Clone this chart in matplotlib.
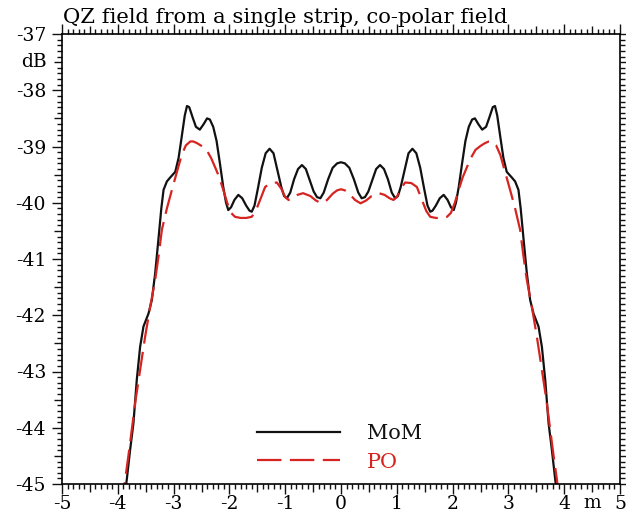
import matplotlib
matplotlib.use('Agg')
import matplotlib.pyplot as plt
from matplotlib.ticker import MultipleLocator, FuncFormatter
from matplotlib.transforms import blended_transform_factory

plt.rcParams['font.family'] = 'DejaVu Serif'
plt.rcParams['axes.unicode_minus'] = False

# MoM (black), metres vs dB
x_mom = [-3.92, -3.84, -3.78, -3.72, -3.66, -3.60, -3.54, -3.45, -3.39, -3.33,
         -3.27, -3.22, -3.18, -3.12, -3.06, -2.97, -2.91, -2.855, -2.80, -2.76,
         -2.72, -2.66, -2.60, -2.53, -2.46, -2.40, -2.35, -2.29, -2.23, -2.17,
         -2.11, -2.06, -2.02, -1.97, -1.91, -1.84, -1.77, -1.70, -1.64, -1.60,
         -1.55, -1.49, -1.42, -1.35, -1.28, -1.21, -1.14, -1.07, -1.02, -0.97,
         -0.91, -0.84, -0.77, -0.70, -0.63, -0.56, -0.49, -0.43, -0.37, -0.31,
         -0.23, -0.15, -0.07, 0.0,
         0.07, 0.15, 0.23, 0.31, 0.37, 0.43, 0.49, 0.56, 0.63, 0.70,
         0.77, 0.84, 0.91, 0.97, 1.02, 1.07, 1.14, 1.21, 1.28, 1.35,
         1.42, 1.49, 1.55, 1.60, 1.64, 1.70, 1.77, 1.84, 1.91, 1.97,
         2.02, 2.06, 2.11, 2.17, 2.23, 2.29, 2.35, 2.40, 2.46, 2.53,
         2.60, 2.66, 2.72, 2.76, 2.80, 2.855, 2.91, 2.97, 3.06, 3.12,
         3.18, 3.22, 3.27, 3.33, 3.39, 3.45, 3.54, 3.60, 3.66, 3.72,
         3.78, 3.84, 3.92]
y_mom = [-45.5, -44.93, -44.4, -43.92, -43.15, -42.56, -42.2, -41.97, -41.73, -41.25,
         -40.63, -40.1, -39.77, -39.62, -39.55, -39.45, -39.2, -38.83, -38.45, -38.28,
         -38.30, -38.48, -38.65, -38.70, -38.60, -38.50, -38.52, -38.65, -38.90, -39.3,
         -39.72, -40.0, -40.13, -40.08, -39.95, -39.86, -39.92, -40.05, -40.14, -40.16,
         -40.05, -39.75, -39.38, -39.12, -39.04, -39.12, -39.42, -39.72, -39.88, -39.92,
         -39.82, -39.58, -39.40, -39.33, -39.40, -39.60, -39.80, -39.90, -39.92, -39.82,
         -39.58, -39.38, -39.30, -39.28,
         -39.30, -39.38, -39.58, -39.82, -39.92, -39.90, -39.80, -39.60, -39.40, -39.33,
         -39.40, -39.58, -39.82, -39.92, -39.88, -39.72, -39.42, -39.12, -39.04, -39.12,
         -39.38, -39.75, -40.05, -40.16, -40.14, -40.05, -39.92, -39.86, -39.95, -40.08,
         -40.13, -40.0, -39.72, -39.3, -38.90, -38.65, -38.52, -38.50, -38.60, -38.70,
         -38.65, -38.48, -38.30, -38.28, -38.45, -38.83, -39.2, -39.45, -39.55, -39.62,
         -39.77, -40.1, -40.63, -41.25, -41.73, -41.97, -42.2, -42.56, -43.15, -43.92,
         -44.4, -44.93, -45.5]

# PO (red dashed)
x_po = [-3.92, -3.87, -3.81, -3.75, -3.68, -3.60, -3.51, -3.42, -3.33, -3.27,
        -3.21, -3.12, -3.03, -2.94, -2.855, -2.78, -2.70, -2.65, -2.58, -2.50,
        -2.41, -2.33, -2.26, -2.18, -2.11, -2.04, -1.97, -1.90, -1.80, -1.70,
        -1.60, -1.53, -1.45, -1.36, -1.26, -1.15, -1.07, -1.00, -0.94, -0.87,
        -0.78, -0.68, -0.55, -0.45, -0.35, -0.25, -0.15, -0.07, 0.0,
        0.07, 0.15, 0.25, 0.35, 0.45, 0.55, 0.68, 0.78, 0.87, 0.94,
        1.00, 1.07, 1.15, 1.26, 1.36, 1.45, 1.53, 1.60, 1.70, 1.80,
        1.90, 1.97, 2.04, 2.11, 2.18, 2.26, 2.33, 2.41, 2.50, 2.58,
        2.65, 2.70, 2.78, 2.855, 2.94, 3.03, 3.12, 3.21, 3.27, 3.33,
        3.42, 3.51, 3.60, 3.68, 3.75, 3.81, 3.87, 3.92]
y_po = [-45.4, -44.93, -44.5, -44.04, -43.5, -42.97, -42.38, -41.85, -41.37, -40.95,
        -40.48, -40.1, -39.77, -39.45, -39.15, -38.98, -38.91, -38.91, -38.94, -38.99,
        -39.06, -39.2, -39.36, -39.55, -39.77, -40.0, -40.18, -40.25, -40.27, -40.27,
        -40.25, -40.15, -39.95, -39.72, -39.65, -39.64, -39.75, -39.90, -39.95, -39.92,
        -39.86, -39.83, -39.88, -39.96, -40.01, -39.95, -39.84, -39.78, -39.76,
        -39.78, -39.84, -39.95, -40.01, -39.96, -39.88, -39.83, -39.86, -39.92, -39.95,
        -39.90, -39.75, -39.64, -39.65, -39.72, -39.95, -40.15, -40.25, -40.27, -40.27,
        -40.25, -40.18, -40.0, -39.77, -39.55, -39.36, -39.2, -39.06, -38.99, -38.94,
        -38.91, -38.91, -38.98, -39.15, -39.45, -39.77, -40.1, -40.48, -40.95, -41.37,
        -41.85, -42.38, -42.97, -43.5, -44.04, -44.5, -44.93, -45.4]

fig = plt.figure(figsize=(6.26, 5.13), dpi=100)
ax = fig.add_axes([62/626, 1-484/513, 558/626, 450/513])

ax.plot(x_mom, y_mom, color='#111111', lw=1.6, label='MoM')
ax.plot(x_po, y_po, color='#d62420', lw=1.6, dashes=(11, 3.8), label='PO')

ax.set_xlim(-5, 5)
ax.set_ylim(-45, -37)
ax.xaxis.set_major_locator(MultipleLocator(1))
ax.xaxis.set_minor_locator(MultipleLocator(0.1))
ax.yaxis.set_major_locator(MultipleLocator(1))
ax.yaxis.set_minor_locator(MultipleLocator(0.1))
fmt = FuncFormatter(lambda v, p: '%d' % round(v))
ax.xaxis.set_major_formatter(fmt)
ax.yaxis.set_major_formatter(fmt)
ax.tick_params(which='both', direction='out', top=True, right=True,
               labelsize=13.5, width=1.0, color='#111111')
ax.tick_params(which='major', length=7.5)
ax.tick_params(which='minor', length=3.3)
ax.tick_params(axis='y', which='major', pad=4)
ax.tick_params(axis='x', which='major', pad=0.5)
for sp in ax.spines.values():
    sp.set_linewidth(1.2)

# longer ticks at the halves
for axis in (ax.xaxis, ax.yaxis):
    locs = axis.get_minorticklocs()
    for loc, t in zip(locs, axis.get_minor_ticks(len(locs))):
        if abs(loc * 2 - round(loc * 2)) < 1e-6:
            t.tick1line.set_markersize(5.5)
            t.tick2line.set_markersize(5.5)

# unit labels
ty = blended_transform_factory(ax.transAxes, ax.transData)
ax.text(-0.027, -37.5, 'dB', transform=ty, ha='right', va='center', fontsize=13.5)
tx = blended_transform_factory(ax.transData, ax.transAxes)
ax.text(4.5, -0.0215, 'm', transform=tx, ha='center', va='top', fontsize=13.5)

fig.text(63/626, 1-23/513, 'QZ field from a single strip, co-polar field',
         ha='left', va='baseline', fontsize=15.2)

ax.legend(loc='upper left', bbox_to_anchor=(0.349, 0.133), frameon=False,
          fontsize=15, handlelength=4.0, handletextpad=1.3, labelspacing=0.45,
          borderpad=0, borderaxespad=0, labelcolor='linecolor')

fig.savefig('out.png', dpi=100)
